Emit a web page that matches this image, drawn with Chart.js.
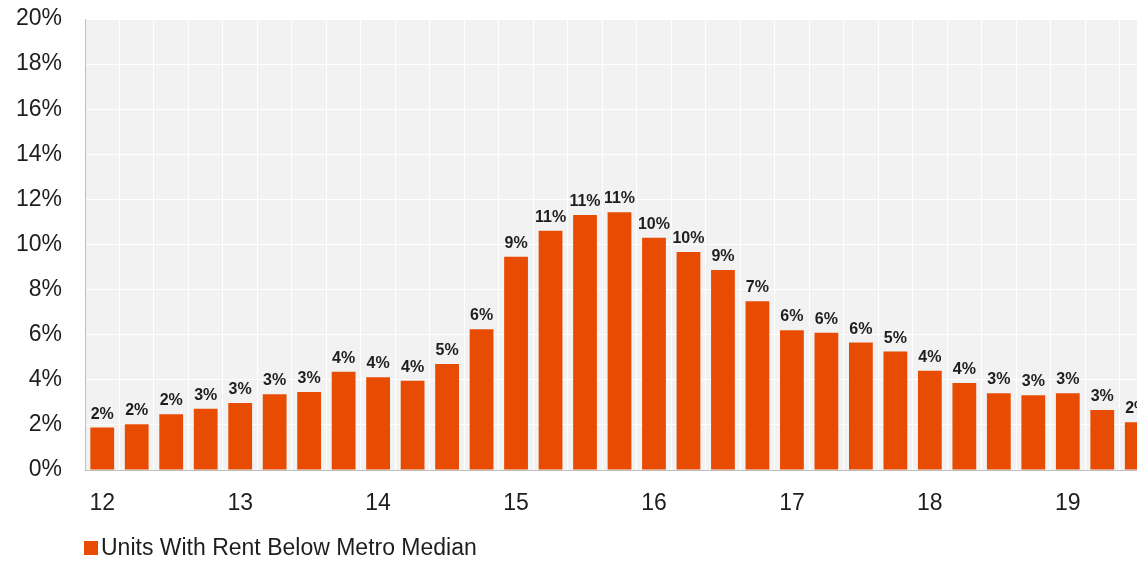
<!DOCTYPE html>
<html>
<head>
<meta charset="utf-8">
<script src="https://cdn.jsdelivr.net/npm/chart.js@4.4.1/dist/chart.umd.min.js"></script>
<style>
  html, body { margin: 0; padding: 0; background: #fff; }
  #wrap { width: 1137px; height: 563px; overflow: hidden; }
  canvas { display: block; }
</style>
</head>
<body>
<div id="wrap"><canvas id="chart" width="1160" height="563" style="width:1160px;height:563px"></canvas></div>
<script>
// Quarterly categories, 2012 Q1 .. 2019 Q3
const years = ['12', '13', '14', '15', '16', '17', '18', '19'];
const quarters = ['Q1', 'Q2', 'Q3', 'Q4'];
const seriesName = 'Units With Rent Below Metro Median';
// share of units (%)
const shareValues = [
    1.88, 2.03, 2.47, 2.72,
    2.97, 3.36, 3.46, 4.36,
    4.11, 3.96, 4.70, 6.24,
    9.46, 10.61, 11.31, 11.43,
    10.30, 9.67, 8.87, 7.48,
    6.20, 6.09, 5.65, 5.25,
    4.40, 3.86, 3.40, 3.31,
    3.40, 2.66, 2.12
];

const categories = [];
years.forEach(y => quarters.forEach(q => categories.push(y + ' ' + q)));
categories.length = shareValues.length;

const BAR_COLOR = '#e84c03';
const TEXT_COLOR = '#1e1e1e';
const FONT = 'Arial, "Liberation Sans", sans-serif';

// grey plot background
const plotBg = {
    id: 'plotBg',
    beforeDraw(chart) {
        const a = chart.chartArea;
        const ctx = chart.ctx;
        ctx.save();
        ctx.fillStyle = '#f2f2f2';
        ctx.fillRect(a.left, a.top, a.right - a.left, a.bottom - a.top);
        ctx.restore();
    }
};

// value labels above each bar
const barLabels = {
    id: 'barLabels',
    afterDatasetsDraw(chart) {
        const ctx = chart.ctx;
        const meta = chart.getDatasetMeta(0);
        ctx.save();
        ctx.font = 'bold 16px ' + FONT;
        ctx.fillStyle = TEXT_COLOR;
        ctx.textAlign = 'center';
        ctx.textBaseline = 'alphabetic';
        meta.data.forEach((bar, i) => {
            const v = chart.data.datasets[0].data[i];
            ctx.fillText(Math.round(v) + '%', bar.x, bar.y - 9);
        });
        ctx.restore();
    }
};

// simple legend under the axis
const legendBox = {
    id: 'legendBox',
    afterDraw(chart) {
        const ctx = chart.ctx;
        const x = chart.chartArea.left - 1;
        const y = 548;
        ctx.save();
        ctx.fillStyle = BAR_COLOR;
        ctx.fillRect(x, y - 7, 14, 14);
        ctx.font = '23px ' + FONT;
        ctx.fillStyle = TEXT_COLOR;
        ctx.textBaseline = 'middle';
        ctx.fillText(chart.data.datasets[0].label, x + 17, y + 1);
        ctx.restore();
    }
};

new Chart(document.getElementById('chart'), {
    type: 'bar',
    data: {
        labels: categories,
        datasets: [{
            label: seriesName,
            data: shareValues,
            backgroundColor: BAR_COLOR,
            borderWidth: 0,
            categoryPercentage: 1,
            barPercentage: 0.69
        }]
    },
    plugins: [plotBg, barLabels, legendBox],
    options: {
        responsive: false,
        animation: false,
        layout: { padding: { top: 0, right: 6, bottom: 0, left: 0 } },
        plugins: {
            legend: { display: false },
            tooltip: { enabled: false }
        },
        scales: {
            x: {
                grid: { color: '#ffffff', lineWidth: 1, drawTicks: false, offset: true },
                border: { display: true, color: '#bfbfbf', width: 1 },
                ticks: {
                    autoSkip: false,
                    maxRotation: 0,
                    padding: 20,
                    color: TEXT_COLOR,
                    font: { family: FONT, size: 23 },
                    callback: function(val, idx) {
                        return idx % 4 === 0 ? years[idx / 4] : '';
                    }
                },
                afterFit: function(scale) { scale.height = 93; }
            },
            y: {
                min: 0,
                max: 20,
                grid: { color: '#ffffff', lineWidth: 1, drawTicks: false },
                border: { display: true, color: '#bfbfbf', width: 1 },
                ticks: {
                    stepSize: 2,
                    padding: 23,
                    color: TEXT_COLOR,
                    font: { family: FONT, size: 23 },
                    callback: v => v + '%'
                },
                afterFit: function(scale) {
                    scale.width = 85;
                    scale.paddingTop = 19;
                    scale.paddingBottom = 0;
                }
            }
        }
    }
});
</script>
</body>
</html>
